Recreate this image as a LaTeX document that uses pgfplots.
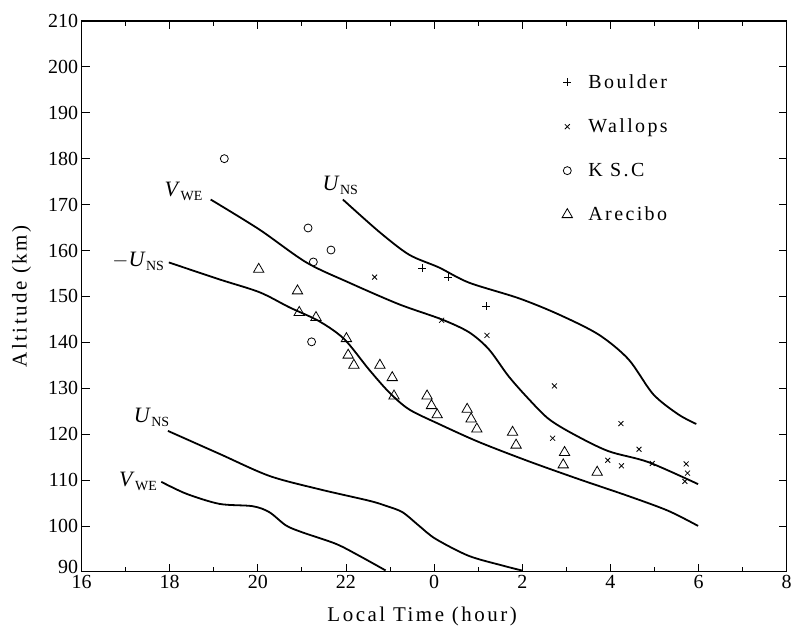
\documentclass[border=0pt]{standalone}
\usepackage{fontspec}
\setmainfont{Liberation Serif}
\newfontfamily\spaced[LetterSpace=12]{Liberation Serif}
\usepackage{pgfplots}
\pgfplotsset{compat=1.18}

% curve label: italic letter with small upright subscript
\newcommand\lab[2]{\textit{#1}\kern0.5pt\raisebox{-4pt}{\fontsize{14}{14}\selectfont #2}}

\begin{document}
\begin{tikzpicture}
\path (-81.7pt,-59pt) rectangle (713.3pt,573pt);
\begin{axis}[
    scale only axis,
    width=706.6pt, height=552pt,
    at={(0,0)}, anchor=south west,
    xmin=16, xmax=32, ymin=90, ymax=210,
    xtick={16,18,...,32},
    xticklabels={16,18,20,22,0,2,4,6,8},
    minor x tick num=1,
    ytick={90,100,...,210},
    yticklabels={\raisebox{9pt}{90},100,110,120,130,140,150,160,170,180,190,200,210},
    tick align=inside,
    major tick length=8pt, minor tick length=5pt,
    axis line style={line width=1.1pt},
    every tick/.style={black, line width=0.8pt},
    /pgf/number format/assume math mode=true,
    tick label style={font=\fontsize{20}{24}\selectfont},
    xlabel={Local Time (hour)},
    ylabel={Altitude (km)},
    label style={font=\spaced\fontsize{21}{24}\selectfont},
    xlabel style={at={(axis description cs:0.483,-0.0815)}, anchor=center},
    ylabel style={at={(axis description cs:-0.085,0.5)}, anchor=center},
    legend style={draw=none, fill=none,
        at={(rel axis cs:0.677,0.91)}, anchor=north west,
        font=\spaced\fontsize{20}{24}\selectfont,
        row sep=25pt},
    legend cell align=left,
]
% model curves
\addplot[smooth, line width=1.8pt, forget plot] coordinates {
    (21.93,171.1)(22.75,164.1)(23.43,159.1)(24.11,156.3)(24.79,153.0)
    (25.92,149.6)(26.82,146.1)(27.73,141.7)(28.41,136.3)(28.97,128.7)
    (29.54,124.3)(29.95,122.2)
};
\addplot[smooth, line width=1.8pt, forget plot] coordinates {
    (18.93,171.1)(20.03,164.6)(21.10,157.4)(22.07,153.0)(23.20,148.3)
    (24.17,145.0)(24.79,142.2)(25.24,138.5)(25.69,132.6)(26.15,127.6)
    (26.60,123.3)(27.16,120.0)(27.95,116.3)(28.86,113.9)(29.99,109.1)
};
\addplot[smooth, line width=1.8pt, forget plot] coordinates {
    (17.98,157.4)(19.13,153.7)(20.04,150.9)(20.72,147.6)(21.39,144.6)
    (21.96,140.7)(22.52,134.1)(22.98,129.1)(23.43,125.4)(24.11,122.2)
    (25.01,118.3)(26.14,114.1)(27.28,110.2)(28.41,106.5)(29.31,103.3)
    (29.99,100.0)
};
\addplot[smooth, line width=1.8pt, forget plot] coordinates {
    (17.96,120.7)(19.13,115.7)(20.26,110.9)(21.39,108.0)(22.52,105.5)
    (22.90,104.4)(23.28,103.0)(23.65,100.1)(24.03,97.2)(24.78,93.5)
    (25.54,91.4)(25.99,90.3)
};
\addplot[smooth, line width=1.8pt, forget plot] coordinates {
    (17.81,109.6)(18.38,107.0)(19.13,104.8)(19.88,104.3)(20.26,103.0)
    (20.64,100.1)(21.01,98.6)(21.77,96.1)(22.30,93.5)(22.90,90.3)
};
% observations
\addplot[only marks, mark=+, mark size=4pt, mark options={line width=0.8pt}] coordinates {
    (23.73,156.2)(24.32,154.2)(25.18,147.8)
};
\addlegendentry{\hspace{14pt}Boulder}
\addplot[only marks, mark=x, mark size=3.5pt, mark options={line width=0.8pt}] coordinates {
    (22.65,154.2)(24.17,144.8)(25.20,141.5)(26.73,130.5)(28.24,122.3)
    (26.69,119.1)(28.65,116.7)(27.94,114.3)(28.25,113.1)(28.95,113.6)
    (29.72,113.5)(29.75,111.5)(29.69,109.7)
};
\addlegendentry{\hspace{14pt}Wallops}
\addplot[only marks, mark=o, mark size=4pt, mark options={line width=0.8pt, fill=white}] coordinates {
    (19.24,180.0)(21.14,164.9)(21.66,160.1)(21.26,157.5)(21.22,140.1)
};
\addlegendentry{\hspace{14pt}K S.C}
\addplot[only marks, mark=triangle, mark size=6pt, mark options={line width=0.8pt, fill=white}] coordinates {
    (20.02,155.9)(20.90,151.2)(20.94,146.5)(21.32,145.4)(22.01,140.8)
    (22.05,137.2)(22.18,135.0)(22.77,135.0)(23.05,132.3)(23.09,128.3)
    (23.84,128.3)(23.94,126.2)(24.07,124.2)(24.75,125.4)(24.84,123.3)
    (24.97,121.1)(25.78,120.4)(25.86,117.6)(26.96,116.0)(26.93,113.3)
    (27.70,111.7)
};
\addlegendentry{\hspace{14pt}Arecibo}
% curve labels
\begin{scope}[font=\fontsize{22}{24}\selectfont]
\node[anchor=east] at (axis cs:18.82,172.8) {\lab{V}{WE}};
\node at (axis cs:21.87,174.1) {\lab{U}{NS}};
\node[anchor=east] at (axis cs:17.95,157.6) {$-$\lab{U}{NS}};
\node[anchor=east] at (axis cs:18.07,123.7) {\lab{U}{NS}};
\node[anchor=east] at (axis cs:17.79,109.8) {\lab{V}{WE}};
\end{scope}
\end{axis}
\end{tikzpicture}
\end{document}
